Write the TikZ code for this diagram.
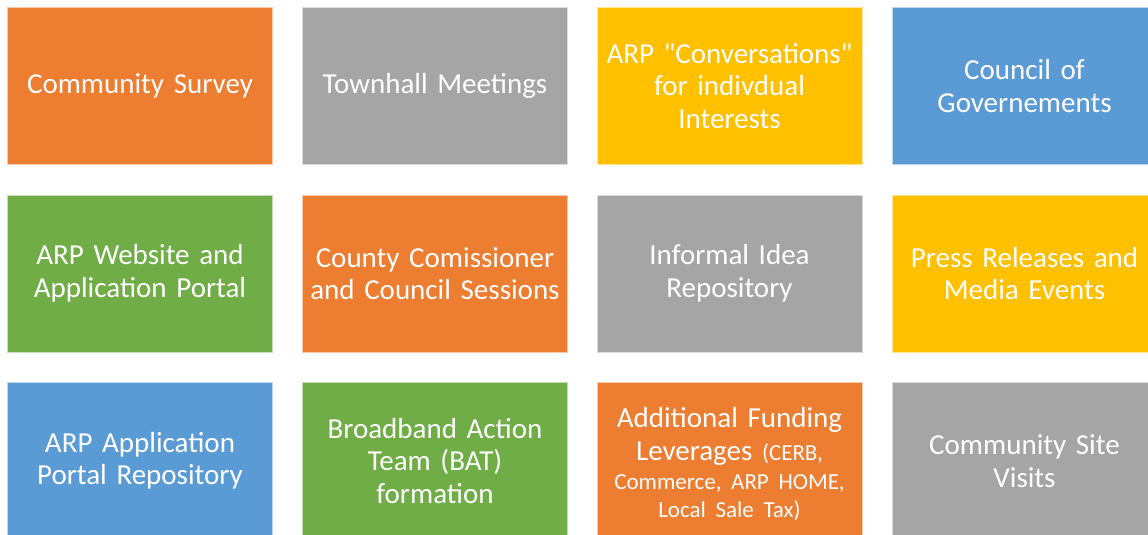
\documentclass[tikz,border=0pt]{standalone}
\usepackage{fontspec}
\setmainfont{Carlito}[Ligatures=TeXOff]

\definecolor{tileorange}{HTML}{ED7D31}
\definecolor{tilegray}{HTML}{A5A5A5}
\definecolor{tilegold}{HTML}{FFC000}
\definecolor{tileblue}{HTML}{5B9BD5}
\definecolor{tilegreen}{HTML}{70AD47}

\tikzset{
  tile/.style={draw=white!60!#1, fill=#1, line width=0.6pt, minimum width=265pt, minimum height=157pt,
    text width=262pt, align=center, text=white, inner sep=0pt, font=\fontsize{29}{32.5}\selectfont}
}
\newcommand{\smalltxt}{\fontsize{23}{28}\selectfont}

\begin{document}
\begin{tikzpicture}[x=1pt, y=-1pt]
            \useasboundingbox (0, 0) rectangle (1148, 535);
            \clip (0, 0) rectangle (1148, 535);
            % first row
            \node[tile=tileorange] (survey) at (140, 86) {Community Survey};
            \node[tile=tilegray] (townhall) at (435, 86) {Townhall Meetings};
            \node[tile=tilegold] (conversations) at (729.5, 86) {ARP "Conversations"\\ for indivdual\\ Interests};
            \node[tile=tileblue] (council) at (1024.5, 86) {Council of\\ Governements};
            % second row
            \node[tile=tilegreen] (website) at (140, 273.5) {ARP Website and\\ Application Portal};
            \node[tile=tileorange] (sessions) at (435, 273.5) {County Comissioner\\ and Council Sessions};
            \node[tile=tilegray] (ideas) at (729.5, 273.5) {Informal Idea\\ Repository};
            \node[tile=tilegold] (press) at (1024.5, 273.5) {Press Releases and\\ Media Events};
            % third row
            \node[tile=tileblue] (repository) at (140, 461) {ARP Application\\ Portal Repository};
            \node[tile=tilegreen] (broadband) at (435, 461) {Broadband Action\\ Team (BAT)\\ formation};
            \node[tile=tileorange] (funding) at (729.5, 461) {\\[-6pt] Additional Funding\\ Leverages {\smalltxt (CERB,}\\[-3pt]
              {\smalltxt Commerce, ARP HOME,}\\[-5pt] {\smalltxt Local Sale Tax)}};
            \node[tile=tilegray] (visits) at (1024.5, 461) {Community Site\\ Visits};
        \end{tikzpicture}
\end{document}
